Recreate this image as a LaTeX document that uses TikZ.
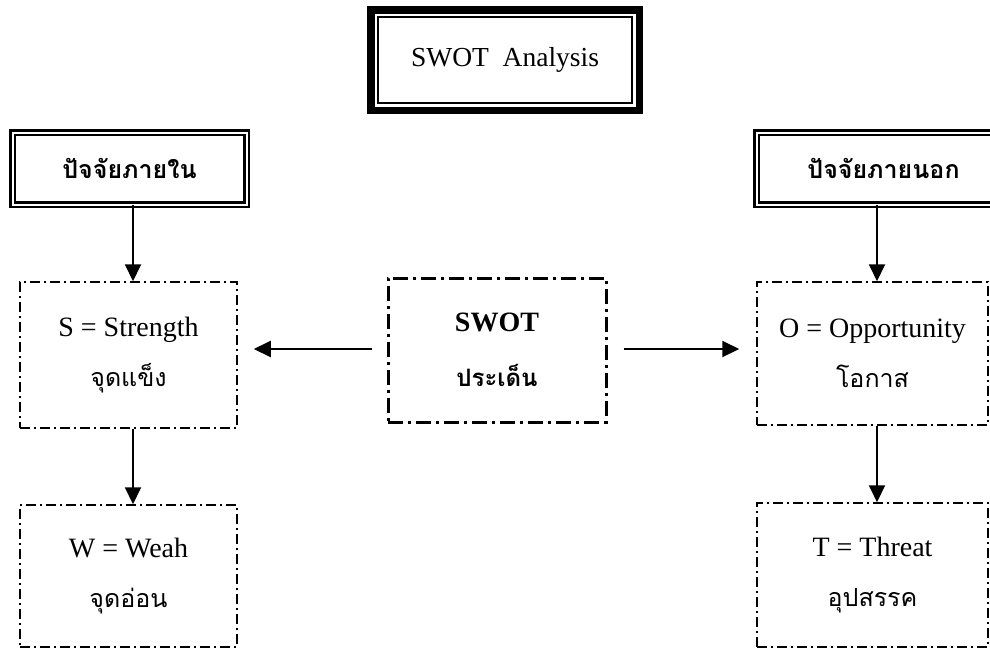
\documentclass[tikz,border=0pt]{standalone}
\usepackage{fontspec}
\setmainfont{Liberation Serif}
\newfontfamily\thaifont[Script=Thai]{Loma}
\usetikzlibrary{arrows.meta, positioning}

\newcommand{\thaiword}[1]{{\thaifont\fontsize{25}{50}\selectfont #1}}

\begin{document}
\begin{tikzpicture}[x=1pt,y=-1pt,>={Triangle[length=17pt,width=16pt]}]
  \tikzstyle{title}=[draw,line width=1.5pt,fill=white,inner sep=0pt,
    minimum width=254pt,minimum height=86pt,font=\fontsize{27.5}{32}\selectfont,
    preaction={draw,line width=22pt},preaction={draw=white,line width=7pt}]
  \tikzstyle{factor}=[draw,line width=2.5pt,double=white,double distance=2pt,
    inner sep=0pt,minimum width=234pt,minimum height=72pt,outer sep=0pt,
    font=\thaifont\bfseries\fontsize{25}{30}\selectfont]
  \tikzstyle{item}=[draw,line width=1.5pt,dash pattern=on 10pt off 4pt on 2pt off 4pt,
    inner sep=0pt,align=center,font=\fontsize{28}{50}\selectfont]
  \tikzstyle{core}=[draw,line width=3pt,dash pattern=on 15pt off 5pt on 3pt off 5pt,
    inner sep=0pt,align=center,minimum width=218pt,minimum height=144pt,
    font=\bfseries\fontsize{28}{55}\selectfont]

  \useasboundingbox (0,0) rectangle (990,648);
  \clip (0,0) rectangle (990,648);

  \node[title]  (swot)  at (505,60)      {SWOT\ \ Analysis};
  \node[factor] (inner) at (129.5,168.5) {ปัจจัยภายใน};
  \node[factor,minimum width=254pt] (outer) at (883.5,168.5) {ปัจจัยภายนอก};

  \node[item,minimum width=217pt,minimum height=146pt] (S) at (128.5,355)
    {S = Strength\\\thaiword{จุดแข็ง}};
  \node[item,minimum width=217pt,minimum height=142pt] (W) at (128.5,576)
    {W = Weah\\\thaiword{จุดอ่อน}};
  \node[item,minimum width=231pt,minimum height=143pt] (O) at (872.5,353.5)
    {O = Opportunity\\\thaiword{โอกาส}};
  \node[item,minimum width=231pt,minimum height=144pt] (T) at (872.5,575)
    {T = Threat\\\thaiword{อุปสรรค}};

  \node[core] (issue) at (497,350) {SWOT\\{\thaifont\bfseries\fontsize{24}{55}\selectfont ประเด็น}};

  \path[->,line width=2pt]
  ([xshift=3.5pt]inner.south) edge ([xshift=4.5pt]S.north)
  ([xshift=4.5pt]S.south)     edge ([xshift=4.5pt]W.north)
  ([xshift=-6.5pt]outer.south) edge ([xshift=4.5pt]O.north)
  ([xshift=4.5pt]O.south)     edge ([xshift=4.5pt]T.north)
  ([yshift=1pt]issue.west) edge [shorten <=15pt,shorten >=16pt] ([yshift=1pt]issue.west -| S.east)
  ([yshift=1pt]issue.east) edge [shorten <=16pt,shorten >=17pt] ([yshift=1pt]issue.east -| O.west)
  ;
\end{tikzpicture}
\end{document}
